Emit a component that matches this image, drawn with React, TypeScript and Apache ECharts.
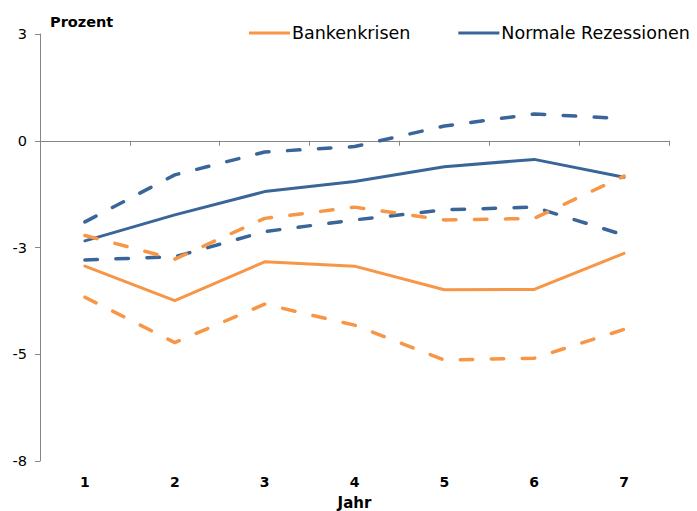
import React, { useEffect, useRef } from "react";
import * as echarts from "echarts";

const categories = ["1", "2", "3", "4", "5", "6", "7"];
const bankenkrisen = [-2.98, -3.87, -2.87, -2.98, -3.59, -3.58, -2.65];
const bankenkrisenOben = [-2.19, -2.8, -1.75, -1.46, -1.79, -1.75, -0.66];
const bankenkrisenUnten = [-3.78, -4.95, -3.96, -4.5, -5.4, -5.35, -4.61];
const normal = [-2.33, -1.66, -1.06, -0.8, -0.42, -0.23, -0.69];
const normalOben = [-1.84, -0.63, -0.04, 0.1, 0.63, 0.94, 0.82];
const normalUnten = [-2.82, -2.74, -2.09, -1.79, -1.53, -1.46, -2.18];

// value axis: 3 … -8 in steps of 2.75 (labels rounded as in the original)
const yMin = -8;
const yMax = 3;
const yStep = 2.75;
// the axis crosses the category axis at the tick labelled "0" (0.25)
const yShift = 0.25;

const ORANGE = "#F79646";
const BLUE = "#3A6599";
const FONT = "DejaVu Sans";

export default function App() {
  const ref = useRef<HTMLDivElement>(null);
  useEffect(() => {
    if (!ref.current) return;
    const chart = echarts.init(ref.current, null, { renderer: "svg" });
    const sh = (arr: number[]) => arr.map((v) => +(v - yShift).toFixed(4));
    const solid = (name: string, color: string, data: number[]) => ({
      name,
      type: "line",
      data: sh(data),
      symbol: "none",
      lineStyle: { color, width: 3, cap: "round", join: "round" },
      itemStyle: { color },
    });
    const dashed = (name: string, color: string, data: number[]) => ({
      name,
      type: "line",
      data: sh(data),
      symbol: "none",
      lineStyle: { color, width: 3.5, type: [12.5, 18.5], cap: "round", join: "round" },
      itemStyle: { color },
    });
    chart.setOption({
      animation: false,
      title: {
        text: "Prozent",
        left: 50,
        top: 14,
        padding: 0,
        textStyle: { fontFamily: FONT, fontSize: 14.5, fontWeight: "bold", color: "#000" },
      },
      legend: {
        data: ["Bankenkrisen", "Normale Rezessionen"],
        orient: "horizontal",
        left: 249,
        top: 24,
        width: 448,
        padding: 0,
        icon: "rect",
        itemWidth: 41,
        itemHeight: 3,
        itemGap: 48,
        textStyle: { fontFamily: FONT, fontSize: 17.5, color: "#000", padding: [0, 0, 0, -3] },
      },
      grid: { left: 40, right: 28, top: 34, bottom: 50, outerBoundsMode: "none", containLabel: false },
      xAxis: [
        {
          type: "category",
          data: categories,
          position: "bottom",
          boundaryGap: true,
          axisLine: { show: false, onZero: false },
          axisTick: { show: false },
          axisLabel: { margin: 14, fontFamily: FONT, fontSize: 14, fontWeight: "bold", color: "#000" },
          name: "Jahr",
          nameLocation: "middle",
          nameGap: 34,
          nameTextStyle: { fontFamily: FONT, fontSize: 15, fontWeight: "bold", color: "#000" },
        },
        {
          type: "category",
          data: categories,
          position: "top",
          boundaryGap: true,
          axisLine: { show: true, onZero: true, lineStyle: { color: "#868686", width: 1 } },
          axisTick: { show: true, inside: true, length: 5, lineStyle: { color: "#868686" } },
          axisLabel: { show: false },
        },
      ],
      yAxis: {
        type: "value",
        min: yMin - yShift,
        max: yMax - yShift,
        interval: yStep,
        axisLine: { show: true, lineStyle: { color: "#868686", width: 1 } },
        axisTick: { show: true, length: 5, lineStyle: { color: "#868686" } },
        splitLine: { show: false },
        axisLabel: {
          margin: 13,
          fontFamily: FONT,
          fontSize: 14.5,
          color: "#000",
          formatter: (v: number) => {
            const r = +(v + yShift).toFixed(4);
            const n = Math.sign(r) * Math.round(Math.abs(r));
            return String(n === 0 ? 0 : n);
          },
        },
      },
      series: [
        dashed("Normale Rezessionen oben", BLUE, normalOben),
        dashed("Normale Rezessionen unten", BLUE, normalUnten),
        solid("Normale Rezessionen", BLUE, normal),
        dashed("Bankenkrisen oben", ORANGE, bankenkrisenOben),
        dashed("Bankenkrisen unten", ORANGE, bankenkrisenUnten),
        solid("Bankenkrisen", ORANGE, bankenkrisen),
      ],
    });
    return () => chart.dispose();
  }, []);
  return (
    <div
      ref={ref}
      style={{ position: "fixed", left: 0, top: 0, width: 697, height: 511, background: "#fff" }}
    />
  );
}
